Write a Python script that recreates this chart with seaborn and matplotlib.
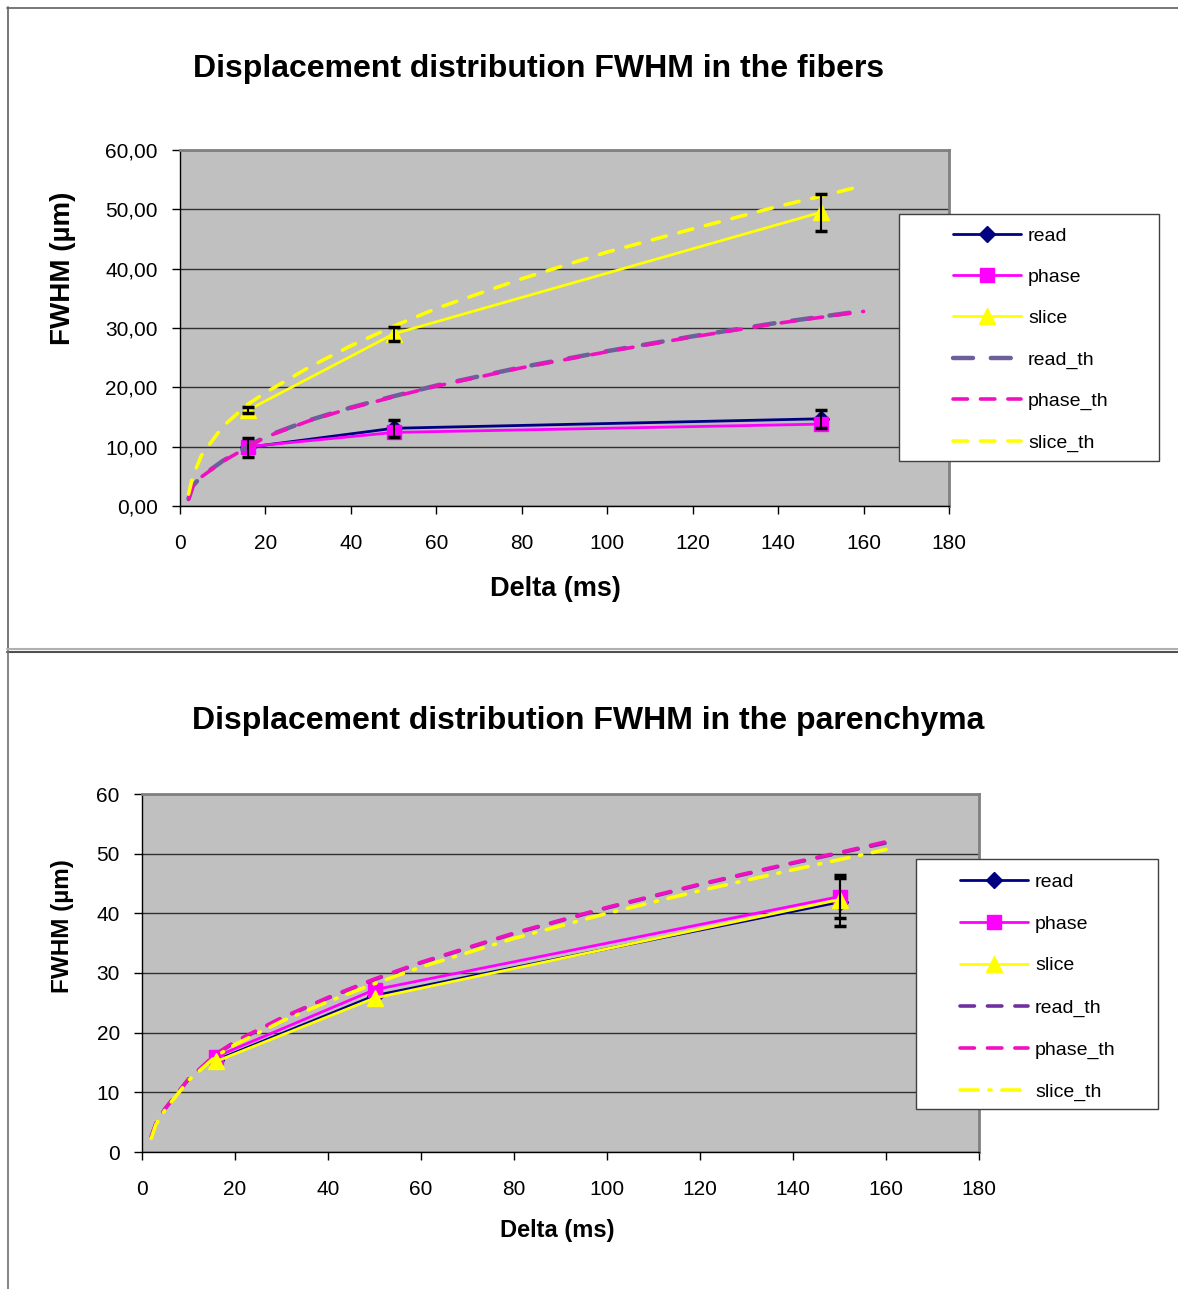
import numpy as np
import pandas as pd
import matplotlib
matplotlib.use("Agg")
import matplotlib.pyplot as plt
import seaborn as sns
from matplotlib.lines import Line2D
from matplotlib.patches import Rectangle
from matplotlib.ticker import FuncFormatter, MultipleLocator

# ---------------- data ----------------
delta = [16, 50, 150]

# fibers
fib_read = [9.9, 13.1, 14.7]
fib_phase = [10.0, 12.4, 13.8]
fib_slice = [16.2, 29.0, 49.5]
fib_read_err = [1.6, 1.4, 1.5]
fib_slice_err = [0.5, 1.2, 3.1]

th_delta = [2, 3, 5, 10, 16, 20, 30, 40, 50, 60, 80, 100, 120, 140, 150, 160]
fib_read_th = [1.2, 3.4, 5.0, 7.6, 10.1, 11.7, 14.4, 16.6, 18.5, 20.3, 23.4, 26.1, 28.6, 30.9, 31.9, 32.9]
fib_phase_th = [1.1, 3.3, 4.9, 7.5, 10.0, 11.6, 14.3, 16.5, 18.4, 20.2, 23.3, 26.0, 28.5, 30.8, 31.8, 32.8]
fib_slice_th = [2.0, 5.0, 8.5, 13.4, 17.2, 19.1, 23.3, 27.0, 30.3, 33.3, 38.3, 42.8, 46.7, 50.5, 52.2, 54.0]

# parenchyma
par_read = [15.4, 26.2, 41.9]
par_phase = [16.0, 27.2, 42.8]
par_slice = [15.2, 25.8, 42.3]
par_read_err = [0.0, 0.0, 4.0]
par_phase_err = [0.0, 0.0, 3.6]

par_read_th = [2.6, 4.8, 7.3, 12.2, 16.4, 18.4, 22.4, 25.8, 28.9, 31.7, 36.6, 40.9, 44.8, 48.4, 50.1, 51.8]
par_phase_th = [2.6, 4.8, 7.3, 12.2, 16.5, 18.5, 22.5, 25.9, 29.0, 31.8, 36.7, 41.0, 44.9, 48.5, 50.2, 52.0]
par_slice_th = [2.3, 4.6, 7.1, 12.0, 16.1, 18.0, 21.9, 25.2, 28.2, 31.0, 35.8, 40.0, 43.8, 47.3, 49.0, 50.7]

series_labels = ["read", "phase", "slice", "read_th", "phase_th", "slice_th"]
x_ticks = [0, 20, 40, 60, 80, 100, 120, 140, 160, 180]

titles = ["Displacement distribution FWHM in the fibers",
          "Displacement distribution FWHM in the parenchyma"]
xlabel = "Delta (ms)"
ylabel = "FWHM (µm)"

# ---------------- style ----------------
sns.set_style("white")
plt.rcParams["font.family"] = ["Liberation Sans", "DejaVu Sans"]
plt.rcParams["text.color"] = "black"
plt.rcParams["axes.labelcolor"] = "black"
plt.rcParams["xtick.color"] = "black"
plt.rcParams["ytick.color"] = "black"

W, H = 1178, 1289
fig = plt.figure(figsize=(W / 100, H / 100), dpi=100)
fig.patch.set_facecolor("white")


def fx(px):
    return px / W


def fy(py):
    return 1 - py / H


def hline(y, x0, x1, color, lw):
    fig.add_artist(Line2D([fx(x0), fx(x1)], [fy(y), fy(y)], transform=fig.transFigure,
                          color=color, lw=lw, zorder=0.5))


def vline(x, y0, y1, color, lw):
    fig.add_artist(Line2D([fx(x), fx(x)], [fy(y0), fy(y1)], transform=fig.transFigure,
                          color=color, lw=lw, zorder=0.5))


# panel borders
hline(7.5, 7, W, "#606060", 1.2)
vline(7.5, 7, 650, "#606060", 1.2)
hline(649, 7, W, "#B0B0B0", 1.5)
hline(651.5, 7, W, "#505050", 1.5)
vline(7.5, 651, H, "#707070", 1.2)

C_READ = "#000080"
C_PHASE = "#FF00FF"
C_SLICE = "#FFFF00"


def style_axes(ax, ymax, fmt):
    ax.set_facecolor("#C0C0C0")
    ax.set_xlim(0, 180)
    ax.set_ylim(0, ymax)
    ax.xaxis.set_major_locator(matplotlib.ticker.FixedLocator(x_ticks))
    ax.yaxis.set_major_locator(MultipleLocator(10))
    ax.yaxis.set_major_formatter(FuncFormatter(fmt))
    ax.grid(False)
    ax.yaxis.grid(True, color="#303030", lw=1.0)
    ax.set_axisbelow(True)
    for s in ["top", "right"]:
        ax.spines[s].set_color("#808080")
        ax.spines[s].set_linewidth(2)
    for s in ["left", "bottom"]:
        ax.spines[s].set_color("black")
        ax.spines[s].set_linewidth(1)
    ax.tick_params(axis="both", direction="out", length=6, width=1, color="black",
                   labelsize=15, labelcolor="black")
    ax.tick_params(axis="x", pad=14, bottom=True)
    ax.tick_params(axis="y", pad=10, left=True)


def draw_panel(ax, read, phase, slc, rth, pth, sth, th_styles):
    sns.lineplot(x=delta, y=read, ax=ax, color=C_READ, lw=2, marker="D", markersize=8,
                 mec=C_READ, mew=1, label="read", legend=False, errorbar=None, zorder=3)
    sns.lineplot(x=delta, y=phase, ax=ax, color=C_PHASE, lw=2, marker="s", markersize=10,
                 mec=C_PHASE, mew=1, label="phase", legend=False, errorbar=None, zorder=3)
    sns.lineplot(x=delta, y=slc, ax=ax, color=C_SLICE, lw=2, marker="^", markersize=11,
                 mec=C_SLICE, mew=1, label="slice", legend=False, errorbar=None, zorder=3)
    for yv, lab, st in zip([rth, pth, sth], ["read_th", "phase_th", "slice_th"], th_styles):
        sns.lineplot(x=th_delta, y=yv, ax=ax, label=lab, legend=False, errorbar=None,
                     zorder=4, dash_capstyle="round", **st)


def add_legend(ax, box, handle_x, first_row_y, spacing):
    handles, labels = ax.get_legend_handles_labels()
    order = [labels.index(l) for l in series_labels]
    handles = [handles[i] for i in order]
    x0, y0, x1, y1 = box
    fig.add_artist(Rectangle((fx(x0), fy(y1)), (x1 - x0) / W, (y1 - y0) / H,
                             transform=fig.transFigure, fc="white", ec="#404040",
                             lw=1.0, zorder=4))
    fig.legend(handles, series_labels, loc="upper left",
               bbox_to_anchor=(fx(handle_x), fy(first_row_y - 12)),
               bbox_transform=fig.transFigure, frameon=False, fontsize=14,
               handlelength=3.5, handletextpad=0.36, labelspacing=spacing,
               borderpad=0, borderaxespad=0).set_zorder(5)


# ---------------- top panel ----------------
ax1 = fig.add_axes([fx(180), fy(506), 769 / W, 356 / H])
style_axes(ax1, 60, lambda v, p: f"{v:.2f}".replace(".", ","))
top_th_styles = [
    dict(color="#6E5E9A", lw=3.2, linestyle=(0, (4.5, 4.0))),
    dict(color="#F010C0", lw=2.6, linestyle=(0, (4.0, 3.6))),
    dict(color="#FFFF00", lw=2.6, linestyle=(0, (4.0, 3.6))),
]
draw_panel(ax1, fib_read, fib_phase, fib_slice, fib_read_th, fib_phase_th, fib_slice_th,
           top_th_styles)
ax1.errorbar(delta, fib_read, yerr=fib_read_err, fmt="none", ecolor="black",
             elinewidth=1.5, capsize=4, capthick=2.5, zorder=5)
ax1.errorbar(delta, fib_slice, yerr=fib_slice_err, fmt="none", ecolor="black",
             elinewidth=1.5, capsize=4, capthick=2.5, zorder=5)
ax1.set_xlabel(xlabel, fontsize=19.5, fontweight="bold")
ax1.set_ylabel(ylabel, fontsize=20, fontweight="bold")
ax1.xaxis.set_label_coords((555 - 180) / 769, (506 - 576) / 356)
ax1.yaxis.set_label_coords((76 - 180) / 769, (506 - 268) / 356)
fig.text(fx(539), fy(69), titles[0], ha="center", va="center", fontsize=23,
         fontweight="bold")
add_legend(ax1, (899, 214, 1159, 461), 953, 239, 1.22)

# ---------------- bottom panel ----------------
ax2 = fig.add_axes([fx(142), fy(1152), 837 / W, 358 / H])
style_axes(ax2, 60, lambda v, p: f"{v:.0f}")
bot_th_styles = [
    dict(color="#7030A0", lw=2.6, linestyle=(0, (4.0, 3.6))),
    dict(color="#F010C0", lw=2.6, linestyle=(0, (4.0, 3.6))),
    dict(color="#FFFF00", lw=2.6, linestyle=(0, (5.0, 3.0, 0.6, 3.0))),
]
draw_panel(ax2, par_read, par_phase, par_slice, par_read_th, par_phase_th, par_slice_th,
           bot_th_styles)
ax2.errorbar(delta[2:], par_read[2:], yerr=par_read_err[2:], fmt="none", ecolor="black",
             elinewidth=1.5, capsize=4, capthick=2.5, zorder=5)
ax2.errorbar(delta[2:], par_phase[2:], yerr=par_phase_err[2:], fmt="none", ecolor="black",
             elinewidth=1.5, capsize=4, capthick=2.5, zorder=5)
ax2.set_xlabel(xlabel, fontsize=17, fontweight="bold")
ax2.set_ylabel(ylabel, fontsize=17.5, fontweight="bold")
ax2.xaxis.set_label_coords((557 - 142) / 837, (1152 - 1219) / 358)
ax2.yaxis.set_label_coords((74 - 142) / 837, (1152 - 926) / 358)
fig.text(fx(588), fy(721), titles[1], ha="center", va="center", fontsize=23,
         fontweight="bold")
add_legend(ax2, (916, 859, 1158, 1109), 960, 885, 1.25)

fig.savefig("out.png", dpi=100)
